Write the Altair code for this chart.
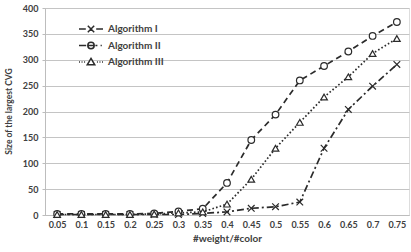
import altair as alt
import pandas as pd

x_labels = ["0.05", "0.1", "0.15", "0.2", "0.25", "0.3", "0.35", "0.4",
            "0.45", "0.5", "0.55", "0.6", "0.65", "0.7", "0.75"]
series_names = ["Algorithm I", "Algorithm II", "Algorithm III"]
alg1 = [1, 1, 1, 1, 1, 1, 3, 6, 13, 16, 25, 129, 204, 249, 291]
alg2 = [2, 2, 2, 2, 3, 7, 12, 62, 145, 194, 260, 288, 316, 346, 373]
alg3 = [1, 1, 1, 1, 2, 4, 6, 21, 69, 129, 179, 228, 267, 312, 341]
y_ticks = [0, 50, 100, 150, 200, 250, 300, 350, 400]

rows = []
for name, vals in zip(series_names, [alg1, alg2, alg3]):
    for xl, v in zip(x_labels, vals):
        rows.append({"x": xl, "value": v, "series": name})
df = pd.DataFrame(rows)

FONT = "Lato"
INK = "#2b2b2b"

# marker shapes in the plot
marker_shapes = ["M-1,-1L1,1M-1,1L1,-1", "circle", "triangle-up"]
# legend symbols: dashed line segments plus marker
legend_shapes = [
    "M-1.5,0H-0.65M-0.4,-0.4L0.4,0.4M-0.4,0.4L0.4,-0.4M0.65,0H1.5",
    "M-1.5,0H-0.6M0.4,0A0.4,0.4,0,1,1,-0.4,0A0.4,0.4,0,1,1,0.4,0ZM-0.4,0H0.4M0.55,0H0.8M1.2,0H1.35",
    "M-1.5,0H-1.38M-1.18,0H-1.06M-0.86,0H-0.74M0,-0.45L0.47,0.35H-0.47ZM0.74,0H0.86M1.06,0H1.18M1.38,0H1.5",
]

x_enc = alt.X("x:O", sort=x_labels, title="#weight/#color",
              axis=alt.Axis(labelAngle=0, ticks=False, grid=False, domainColor="#bdbdbd",
                            labelFont=FONT, labelFontSize=9, labelFontWeight="bold",
                            labelColor="#404040", labelPadding=5,
                            titleFont=FONT, titleFontSize=10, titleFontWeight="bold",
                            titleColor="#404040", titlePadding=4))
y_enc = alt.Y("value:Q", title="Size of the largest CVG",
              scale=alt.Scale(domain=[0, 400], nice=False),
              axis=alt.Axis(values=y_ticks, tickSize=3, tickColor="#bdbdbd",
                            domainColor="#bdbdbd", gridColor="#c4c4c4", gridWidth=1.2,
                            labelFont=FONT, labelFontSize=9, labelFontWeight="bold",
                            labelColor="#404040", labelPadding=4,
                            titleFont=FONT, titleFontSize=8.5, titleFontWeight="bold",
                            titleColor="#404040", titleX=-37, titleY=103,
                            titleBaseline="middle"))

base = alt.Chart(df)

lines = base.mark_line(color=INK, strokeWidth=1.7).encode(
    x=x_enc, y=y_enc,
    strokeDash=alt.StrokeDash("series:N", legend=None,
                              scale=alt.Scale(domain=series_names,
                                              range=[[7, 3, 2, 3], [6, 4], [1.6, 2.2]])),
)

points = base.mark_point(fill="white", stroke=INK, strokeWidth=1.2, size=44, opacity=1).encode(
    x=x_enc, y=y_enc,
    shape=alt.Shape("series:N", legend=None,
                    scale=alt.Scale(domain=series_names, range=marker_shapes)),
)

legend_layer = base.mark_point(
    fill="white", stroke=INK, opacity=0
).encode(
    x=x_enc, y=y_enc,
    shape=alt.Shape("series:N", title=None,
                    scale=alt.Scale(domain=series_names, range=legend_shapes),
                    legend=alt.Legend(orient="none", legendX=37, legendY=12,
                                      symbolSize=256,
                                      symbolOpacity=1, labelOffset=8, rowPadding=0.5,
                                      labelFont=FONT, labelFontSize=10,
                                      labelFontWeight="bold", labelColor="#404040")),
)

chart = alt.layer(lines, legend_layer, points).resolve_scale(
    shape="independent"
).properties(
    width=364, height=207,
    autosize=alt.AutoSizeParams(type="none"),
    padding={"left": 45, "top": 8, "right": 2, "bottom": 37},
).configure_view(stroke=None).configure(background="white")

chart.save("out.html", embed_options={"renderer": "svg", "actions": False})
